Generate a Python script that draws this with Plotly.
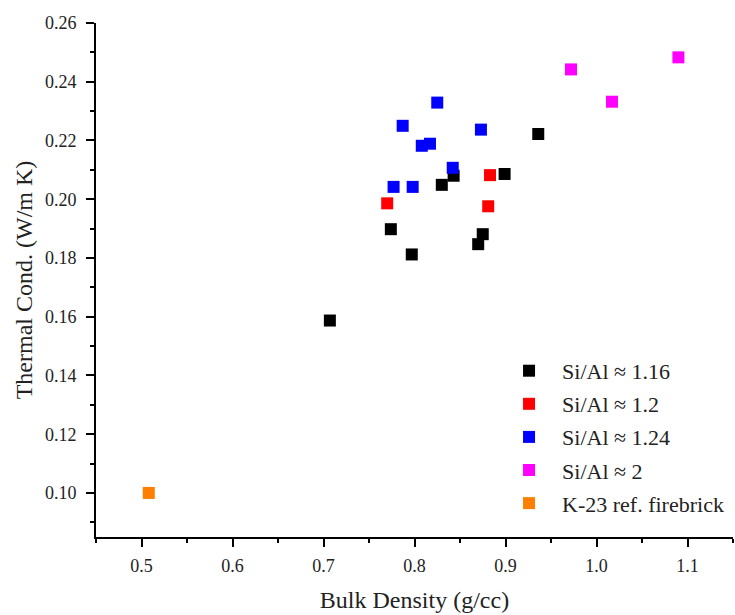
import plotly.graph_objects as go

# Bulk density (g/cc) and thermal conductivity (W/m K) per sample series
si116_density = [0.707, 0.774, 0.797, 0.830, 0.843, 0.870, 0.875, 0.899, 0.936]
si116_cond = [0.1587, 0.1898, 0.1812, 0.2049, 0.2080, 0.1847, 0.1881, 0.2086, 0.2222]

si12_density = [0.770, 0.881, 0.883]
si12_cond = [0.1986, 0.1976, 0.2082]

si124_density = [0.777, 0.787, 0.798, 0.808, 0.817, 0.825, 0.842, 0.873]
si124_cond = [0.2042, 0.2250, 0.2042, 0.2182, 0.2189, 0.2329, 0.2107, 0.2237]

si2_density = [0.972, 1.017, 1.090]
si2_cond = [0.2442, 0.2332, 0.2483]

k23_density = [0.508]
k23_cond = [0.100]

series = [
    ("Si/Al ≈ 1.16", si116_density, si116_cond, "#000000"),
    ("Si/Al ≈ 1.2", si12_density, si12_cond, "#ff0000"),
    ("Si/Al ≈ 1.24", si124_density, si124_cond, "#0000ff"),
    ("Si/Al ≈ 2", si2_density, si2_cond, "#ff00ff"),
    ("K-23 ref. firebrick", k23_density, k23_cond, "#ff8000"),
]

FONT = "Liberation Serif, serif"
TEXT = "#222222"

fig = go.Figure()
for i, (name, xs, ys, color) in enumerate(series):
    fig.add_trace(go.Scatter(
        x=xs, y=ys, mode="markers", name=name,
        legendgroup=f"g{i}",
        marker=dict(symbol="square", size=12, color=color, line=dict(width=0)),
    ))

axis_common = dict(
    showline=True, linecolor="black", linewidth=2,
    ticks="outside", ticklen=8, tickwidth=2, tickcolor="black",
    showgrid=False, zeroline=False, mirror=False,
    tickfont=dict(family=FONT, size=18, color=TEXT),
)

fig.update_xaxes(
    **axis_common,
    range=[0.45, 1.15], dtick=0.1, tick0=0.5, tickformat=".1f",
    minor=dict(ticks="outside", ticklen=4, tickwidth=2, tickcolor="black", dtick=0.05, tick0=0.45),
    ticklabelstandoff=3,
    title=dict(text="Bulk Density (g/cc)", font=dict(family=FONT, size=24, color=TEXT), standoff=17),
)
fig.update_yaxes(
    **axis_common,
    range=[0.085, 0.26], dtick=0.02, tick0=0.1, tickformat=".2f",
    minor=dict(ticks="outside", ticklen=4, tickwidth=2, tickcolor="black", dtick=0.01, tick0=0.09),
    ticklabelstandoff=6,
    title=dict(text="Thermal Cond. (W/m K)", font=dict(family=FONT, size=24, color=TEXT), standoff=6),
)

fig.update_layout(
    width=735, height=615,
    margin=dict(l=96, r=2, t=23, b=78),
    paper_bgcolor="white", plot_bgcolor="white",
    font=dict(family=FONT, color=TEXT),
    legend=dict(
        x=0.628, y=0.364, xanchor="left", yanchor="top",
        bgcolor="rgba(0,0,0,0)", borderwidth=0,
        font=dict(family=FONT, size=22, color=TEXT),
        itemwidth=56, traceorder="grouped", tracegroupgap=1.5,
    ),
)

fig.write_html("out.html")
